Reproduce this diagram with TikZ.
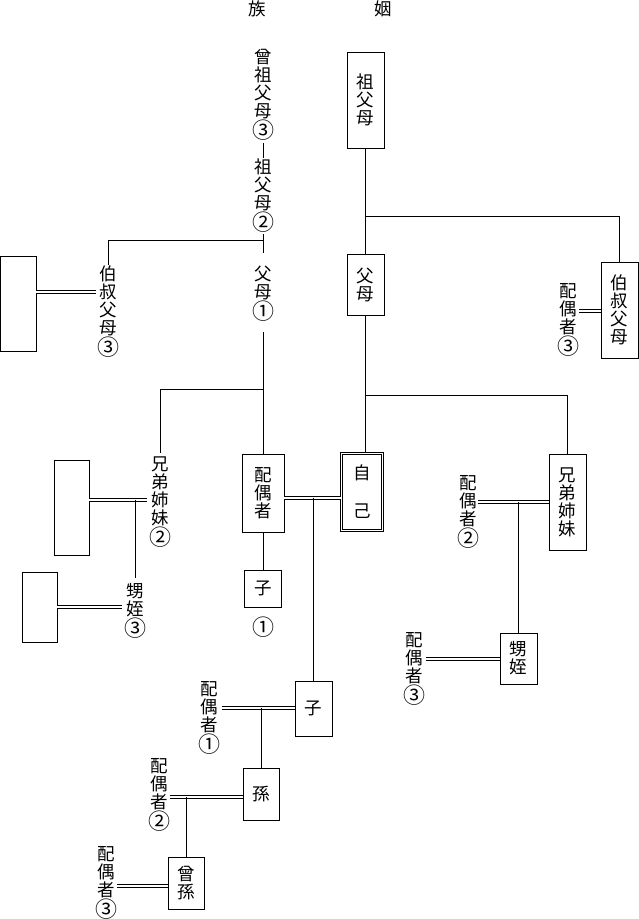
\documentclass[tikz,border=0pt]{standalone}
\usepackage{fontspec}
\newfontfamily\jpfont{Noto Sans CJK JP}
\newcommand\jpsz{\jpfont\fontsize{17.5}{18}\selectfont}
\newcommand\cd[1]{{\fontsize{22}{18}\selectfont #1}}
\begin{document}
\begin{tikzpicture}[x=1pt,y=-1pt,
  box/.style={draw, line width=0.8pt, inner sep=0pt, font=\jpsz, align=center},
  lbl/.style={inner sep=0pt, font=\jpsz, align=center},
  ln/.style={line width=0.8pt},
  dbl/.style={line width=0.7pt, double, double distance=1.8pt},
  dblbox/.style={draw, line width=0.8pt, double, double distance=1.6pt, inner sep=0pt, font=\jpsz, align=center}]
\useasboundingbox (0,0) rectangle (639,919);
% titles
\node[lbl] (t1) at (257,8.5) {族};
\node[lbl] (t2) at (383,8.5) {姻};
% kin labels (no box)
\node[lbl] (ggp) at (263,95) {曾\\祖\\父\\母\\\cd{③}};
\node[lbl] (gp) at (263,196) {祖\\父\\母\\\cd{②}};
\node[lbl] (par) at (263,293.5) {父\\母\\\cd{①}};
\node[lbl] (uncle) at (108.5,312) {伯\\叔\\父\\母\\\cd{③}};
\node[lbl] (sib) at (160,502) {兄\\弟\\姉\\妹\\\cd{②}};
\node[lbl] (nephl) at (135,611) {甥\\姪\\\cd{③}};
\node[lbl] (c1num) at (263,627) {\cd{①}};
\node[lbl] (sp3a) at (568.5,320) {配\\偶\\者\\\cd{③}};
\node[lbl] (sp2a) at (468,512) {配\\偶\\者\\\cd{②}};
\node[lbl] (sp3b) at (414.5,669) {配\\偶\\者\\\cd{③}};
\node[lbl] (sp1) at (209.5,717.5) {配\\偶\\者\\\cd{①}};
\node[lbl] (sp2b) at (159,795) {配\\偶\\者\\\cd{②}};
\node[lbl] (sp3c) at (106.5,883) {配\\偶\\者\\\cd{③}};
% boxes
\node[box, minimum width=37pt, minimum height=96pt] (gpbox) at (365.5,100) {祖\\父\\母};
\node[box, minimum width=37pt, minimum height=61pt] (parbox) at (365.5,284.5) {父\\母};
\node[box, minimum width=37pt, minimum height=96pt] (unclebox) at (619.5,310) {伯\\叔\\父\\母};
\node[box, minimum width=35.5pt, minimum height=95pt] (L1) at (18.25,303.5) {};
\node[box, minimum width=42pt, minimum height=78pt] (spbox) at (263,493) {配\\偶\\者};
\node[dblbox, minimum width=41pt, minimum height=77pt] (self) at (362,492) {自\\[20pt]己};
\node[box, minimum width=37pt, minimum height=96pt] (sibbox) at (567.5,502) {兄\\弟\\姉\\妹};
\node[box, minimum width=35pt, minimum height=95pt] (L2) at (71.5,507.5) {};
\node[box, minimum width=35pt, minimum height=70pt] (L3) at (39.5,607) {};
\node[box, minimum width=37pt, minimum height=37pt] (child1) at (263,588.5) {子};
\node[box, minimum width=37pt, minimum height=51pt] (neph) at (518.5,658.5) {甥\\姪};
\node[box, minimum width=37pt, minimum height=55pt] (child2) at (313.5,708.5) {子};
\node[box, minimum width=36pt, minimum height=52pt] (gc) at (261,794) {孫};
\node[box, minimum width=36pt, minimum height=52pt] (ggc) at (186,883) {曾\\孫};
% junction coordinates
\coordinate (J1) at (263,240);
\coordinate (J2) at (263,389);
\coordinate (J3) at (135,500);
\coordinate (J4) at (313.5,498);
\coordinate (J5) at (365.5,216);
\coordinate (J6) at (365.5,395);
% connectors: kin side
\draw[ln] (263,143) -- (gp.north |- 0,158);
\draw[ln] (gp.south |- 0,234) -- (par.north |- 0,253);
\draw[ln] (J1) -| (uncle.north |- 0,265);
\draw[dbl] (L1.east |- 0,292) -- (96,292);
\draw[ln] (par.south |- 0,332) -- (spbox.north);
\draw[ln] (J2) -| (sib.north |- 0,453);
\draw[dbl] (L2.east |- 0,500) -- (147,500);
\draw[ln] (J3) -- (nephl.north |- 0,578);
\draw[dbl] (L3.east |- 0,607) -- (122,607);
\draw[ln] (spbox.south) -- (child1.north);
\draw[dbl] (spbox.east |- 0,498) -- (self.west |- 0,498);
\draw[ln] (J4) -- (child2.north);
% connectors: in-law side
\draw[ln] (gpbox.south) -- (parbox.north);
\draw[ln] (J5) -| (unclebox.north);
\draw[dbl] (579,311) -- (unclebox.west |- 0,311);
\draw[ln] (parbox.south) -- (parbox.south |- self.north);
\draw[ln] (J6) -| (sibbox.north);
\draw[dbl] (478,502) -- (sibbox.west |- 0,502);
\draw[ln] (neph.north |- 0,502) -- (neph.north);
\draw[dbl] (426,659) -- (neph.west |- 0,659);
% descendants
\draw[dbl] (222,708) -- (child2.west |- 0,708);
\draw[ln] (gc.north |- 0,708) -- (gc.north);
\draw[dbl] (170,797) -- (gc.west |- 0,797);
\draw[ln] (ggc.north |- 0,797) -- (ggc.north);
\draw[dbl] (117,886) -- (ggc.west |- 0,886);
\end{tikzpicture}
\end{document}
